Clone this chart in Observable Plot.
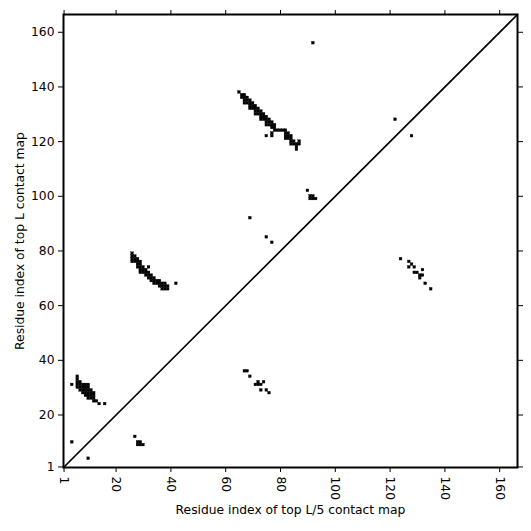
<!DOCTYPE html>
<html>
<head>
<meta charset="utf-8">
<script src="https://cdn.jsdelivr.net/npm/d3@7"></script>
<script src="https://cdn.jsdelivr.net/npm/@observablehq/plot@0.6"></script>
<style>
  html, body { margin: 0; padding: 0; background: white; }
</style>
</head>
<body>
<div id="chart"></div>
<script>
// Sequence length and axis ticks
const seqLength = 166;
const tickValues = [1, 20, 40, 60, 80, 100, 120, 140, 160];
const axisDomain = [0.8, 166.5];

// Contact cells [residue i (x), residue j (y)]
const clusterA = [
  [65,138],
  [66,137],[67,137],
  [66,136],[67,136],[68,136],
  [67,135],[68,135],[69,135],
  [67,134],[68,134],[69,134],[70,134],
  [69,133],[70,133],[71,133],
  [69,132],[70,132],[71,132],[72,132],
  [71,131],[72,131],[73,131],
  [71,130],[72,130],[73,130],[74,130],
  [73,129],[74,129],[75,129],
  [73,128],[74,128],[75,128],[76,128],
  [75,127],[76,127],[77,127],
  [75,126],[76,126],[77,126],[78,126],
  [77,125],[78,125],
  [78,124],[79,124],[80,124],[81,124],[82,124],
  [77,123],[82,123],[83,123],
  [75,122],[77,122],[82,122],[83,122],[84,122],
  [82,121],[83,121],[84,121],
  [84,120],[85,120],[87,120],
  [84,119],[85,119],[86,119],[87,119],
  [86,118],[86,117]
];
const clusterB = [
  [26,79],
  [26,78],[27,78],
  [26,77],[27,77],[28,77],
  [26,76],[27,76],[28,76],[29,76],
  [28,75],[29,75],
  [28,74],[29,74],[30,74],[32,74],
  [29,73],[30,73],[31,73],
  [29,72],[30,72],[31,72],[32,72],
  [31,71],[32,71],[33,71],
  [32,70],[33,70],[34,70],
  [33,69],[34,69],[35,69],[36,69],
  [34,68],[35,68],[36,68],[37,68],[38,68],[42,68],
  [36,67],[37,67],[38,67],[39,67],
  [37,66],[38,66],[39,66]
];
const clusterC = [
  [6,34],[6,33],[6,32],[7,32],
  [4,31],[6,31],[7,31],[8,31],[9,31],[10,31],
  [6,30],[7,30],[8,30],[9,30],[10,30],
  [7,29],[8,29],[9,29],[10,29],[11,29],
  [8,28],[9,28],[10,28],[11,28],[12,28],
  [9,27],[10,27],[11,27],[12,27],
  [10,26],[11,26],[12,26],
  [12,25],[13,25],
  [14,24],[16,24]
];
const clusterLow = [
  [27,12],[28,10],[29,10],[28,9],[29,9],[30,9],[4,10],[10,4]
];
const clusterD = [
  [67,36],[68,36],[69,34],[71,31],[72,31],[73,31],[72,32],[74,32],[73,29],[75,29],[76,28]
];
const clusterE = [
  [124,77],[127,76],[128,75],[127,74],[129,74],[129,72],[130,72],[132,73],
  [131,71],[132,71],[131,70],[133,68],[135,66]
];
const scattered = [
  [92,156],[122,128],[128,122],[90,102],[91,100],[92,100],[91,99],[92,99],[93,99],
  [69,92],[75,85],[77,83]
];

const cells = [...clusterA, ...clusterB, ...clusterC, ...clusterLow, ...clusterD, ...clusterE, ...scattered];
const diagonal = axisDomain;

const chart = Plot.plot({
  width: 531,
  height: 531,
  marginLeft: 63,
  marginRight: 14,
  marginTop: 14,
  marginBottom: 64,
  style: {fontFamily: "DejaVu Sans", fontSize: "12.3px", color: "black", background: "white"},
  x: {domain: axisDomain},
  y: {domain: axisDomain},
  marks: [
    Plot.rect(cells, {
      x1: d => d[0] - 0.5, x2: d => d[0] + 0.5,
      y1: d => d[1] - 0.5, y2: d => d[1] + 0.5,
      fill: "black", stroke: "black", strokeWidth: 0.3
    }),
    Plot.line(diagonal, {x: d => d, y: d => d, stroke: "black", strokeWidth: 1.7}),
    Plot.frame({stroke: "black", strokeWidth: 2}),
    Plot.axisX({anchor: "bottom", ticks: tickValues, tickSize: 5, tickRotate: 90, tickPadding: 4,
      label: "Residue index of top L/5 contact map", labelAnchor: "center", labelArrow: "none", labelOffset: 46}),
    Plot.axisX({anchor: "top", ticks: tickValues, tickSize: 5, tickFormat: () => "", label: null}),
    Plot.axisY({anchor: "left", ticks: tickValues, tickSize: 5, tickPadding: 4,
      label: "Residue index of top L contact map", labelAnchor: "center", labelArrow: "none", labelOffset: 48}),
    Plot.axisY({anchor: "right", ticks: tickValues, tickSize: 5, tickFormat: () => "", label: null})
  ]
});
document.getElementById("chart").appendChild(chart);
</script>
</body>
</html>
